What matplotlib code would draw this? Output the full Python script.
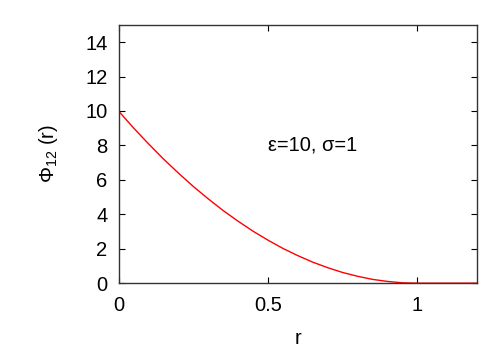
import matplotlib
matplotlib.use('Agg')
import matplotlib.pyplot as plt

# values
r = [0.0, 0.05, 0.1, 0.15, 0.2, 0.25, 0.3, 0.35, 0.4, 0.45, 0.5,
     0.55, 0.6, 0.65, 0.7, 0.75, 0.8, 0.85, 0.9, 0.95, 1.0, 1.1, 1.2]
phi = [10.0, 9.02, 8.1, 7.22, 6.4, 5.62, 4.9, 4.22, 3.6, 3.02, 2.5,
       2.02, 1.6, 1.22, 0.9, 0.62, 0.4, 0.22, 0.1, 0.02, 0.0, 0.0, 0.0]
x_ticks = [0, 0.5, 1]
x_labels = ['0', '0.5', '1']
y_ticks = [0, 2, 4, 6, 8, 10, 12, 14]

plt.rcParams['font.family'] = ['Liberation Sans', 'DejaVu Sans']
plt.rcParams['mathtext.fontset'] = 'custom'
plt.rcParams['mathtext.rm'] = 'Liberation Sans'
plt.rcParams['mathtext.it'] = 'Liberation Sans'

fig = plt.figure(figsize=(5, 3.5), dpi=100)
ax = fig.add_axes([0.237, 0.191, 0.717, 0.738])
ax.plot(r, phi, color='red', linewidth=1.0)
ax.set_xlim(0, 1.2)
ax.set_ylim(0, 15)
ax.set_xticks(x_ticks)
ax.set_xticklabels(x_labels)
ax.set_yticks(y_ticks)
ax.tick_params(direction='in', top=True, right=True, length=4, width=0.8,
               labelsize=14.5)
ax.tick_params(axis='x', pad=9)
ax.tick_params(axis='y', pad=8)
for s in ax.spines.values():
    s.set_linewidth(1.0)
    s.set_color('#333333')
ax.set_xlabel('r', fontsize=14.5, labelpad=10)
ax.set_ylabel(r'$\mathrm{\Phi}_{12}$ (r)', fontsize=14.5, labelpad=18)
ax.text(0.5, 8.0, 'ε=10, σ=1', fontsize=14.5, va='center', ha='left')
fig.savefig('out.png', dpi=100)
